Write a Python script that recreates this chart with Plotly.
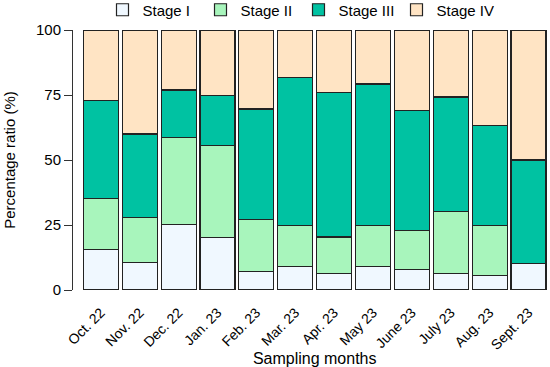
import plotly.graph_objects as go

months = ["Oct. 22", "Nov. 22", "Dec. 22", "Jan. 23", "Feb. 23", "Mar. 23",
          "Apr. 23", "May 23", "June 23", "July 23", "Aug. 23", "Sept. 23"]
stage_1 = [15.6, 10.5, 25.1, 20.3, 7.0, 9.0, 6.2, 9.1, 7.8, 6.3, 5.5, 10.3]
stage_2 = [19.6, 17.5, 33.7, 35.2, 20.2, 15.7, 14.2, 15.6, 15.0, 24.0, 19.4, 0.0]
stage_3 = [37.8, 32.0, 18.1, 19.2, 42.4, 57.1, 55.6, 54.5, 46.3, 43.9, 38.3, 39.7]
stage_4 = [27.0, 40.0, 23.1, 25.3, 30.4, 18.2, 24.0, 20.8, 30.9, 25.8, 36.8, 50.0]

names = ["Stage I", "Stage II", "Stage III", "Stage IV"]
colors = ["#F0F8FF", "#A8F5BC", "#00C2A2", "#FFE4C4"]
series = [stage_1, stage_2, stage_3, stage_4]

FONT = "Liberation Sans, Arial, sans-serif"

fig = go.Figure()
for n, c, s in zip(names, colors, series):
    fig.add_trace(go.Bar(x=months, y=s, name=n,
                         marker=dict(color=c, line=dict(color="#222222", width=1.2))))

W, H = 550, 367
ml, mr, mt, mb = 72, 2, 30, 77
pw = W - ml - mr
ph = H - mt - mb
fig.update_layout(
    width=W, height=H,
    margin=dict(l=ml, r=mr, t=mt, b=mb, autoexpand=False),
    barmode="stack", bargap=0.1,
    plot_bgcolor="white", paper_bgcolor="white",
    font=dict(family=FONT, size=15, color="black"),
    legend=dict(orientation="h", x=(102.5 - ml) / pw, xanchor="left",
                y=1 + (mt - 10) / ph, yanchor="middle", yref="paper",
                entrywidth=53, entrywidthmode="pixels",
                font=dict(size=15), bgcolor="rgba(0,0,0,0)",
                traceorder="normal"),
    xaxis=dict(domain=[(81.4 - ml) / pw, 1], showline=False,
               ticks="outside", ticklen=8, tickcolor="rgba(0,0,0,0)",
               tickangle=-45, tickfont=dict(size=14), automargin=False,
               title=dict(text="Sampling months", font=dict(size=16), standoff=4)),
    yaxis=dict(range=[0, 100], anchor="free", position=0, showline=True,
               linecolor="#333333", linewidth=1, ticks="outside", ticklen=8,
               tickcolor="#333333", tickvals=[0, 25, 50, 75, 100],
               showgrid=False, zeroline=False, tickfont=dict(size=15), automargin=False,
               title=dict(text="Percentage ratio (%)", font=dict(size=15), standoff=15)),
)
fig.write_html("out.html", config={"displayModeBar": False},
               post_script="document.body.style.margin='0px';")
